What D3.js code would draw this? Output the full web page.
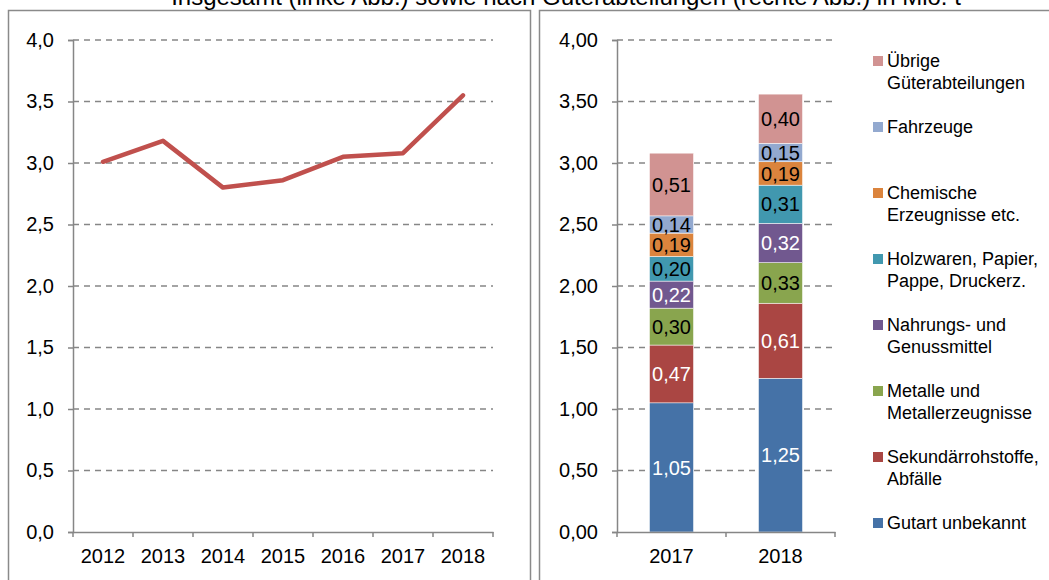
<!DOCTYPE html>
<html>
<head>
<meta charset="utf-8">
<script src="https://cdn.jsdelivr.net/npm/d3@7"></script>
<style>
body { margin: 0; background: #fff; }
svg text { font-family: "Liberation Sans", Arial, Helvetica, sans-serif !important; }
</style>
</head>
<body>
<div id="chart-area"></div>
<script>
// ** Data **
var years = ["2012", "2013", "2014", "2015", "2016", "2017", "2018"];
var totals = [3.01, 3.18, 2.80, 2.86, 3.05, 3.08, 3.55];

var barYears = ["2017", "2018"];
var categories = [
	"Gutart unbekannt",
	"Sekundärrohstoffe, Abfälle",
	"Metalle und Metallerzeugnisse",
	"Nahrungs- und Genussmittel",
	"Holzwaren, Papier, Pappe, Druckerz.",
	"Chemische Erzeugnisse etc.",
	"Fahrzeuge",
	"Übrige Güterabteilungen"
];
// legend lines (wrapped like the original)
var legendLines = [
	["Gutart unbekannt"],
	["Sekundärrohstoffe,", "Abfälle"],
	["Metalle und", "Metallerzeugnisse"],
	["Nahrungs- und", "Genussmittel"],
	["Holzwaren, Papier,", "Pappe, Druckerz."],
	["Chemische", "Erzeugnisse etc."],
	["Fahrzeuge"],
	["Übrige", "Güterabteilungen"]
];
var values2017 = [1.05, 0.47, 0.30, 0.22, 0.20, 0.19, 0.14, 0.51];
var values2018 = [1.25, 0.61, 0.33, 0.32, 0.31, 0.19, 0.15, 0.40];
var colors = ["#4572A7", "#AA4643", "#89A54E", "#71588F", "#4198AF", "#DB843D", "#93A9CF", "#D19392"];
var labelColors = ["#fff", "#fff", "#000", "#fff", "#000", "#000", "#000", "#000"];

var leftTicks = [0, 0.5, 1, 1.5, 2, 2.5, 3, 3.5, 4];
var rightTicks = [0, 0.5, 1, 1.5, 2, 2.5, 3, 3.5, 4];

var title = "Insgesamt (linke Abb.) sowie nach Güterabteilungen (rechte Abb.) in Mio. t";

// ** Dimensions **
var W = 1049, H = 580;
var gridColor = "#868686";
var tickFont = 20;
var fmt1 = function(d){ return d3.format(".1f")(d).replace(".", ","); };
var fmt2 = function(d){ return d3.format(".2f")(d).replace(".", ","); };

var svg = d3.select("#chart-area")
	.append("svg")
	.attr("width", W)
	.attr("height", H);

// Frames
svg.append("rect")
	.attr("x", 8.5).attr("y", 10.5)
	.attr("width", 522).attr("height", 600)
	.attr("fill", "none").attr("stroke", "#8a8a8a").attr("stroke-width", 1.5);
svg.append("rect")
	.attr("x", 539.5).attr("y", 10.5)
	.attr("width", 520).attr("height", 600)
	.attr("fill", "none").attr("stroke", "#8a8a8a").attr("stroke-width", 1.5);

// Title (cut off at top, as in the original)
svg.append("text")
	.attr("x", 566)
	.attr("y", 5)
	.attr("text-anchor", "middle")
	.attr("font-size", 24)
	.attr("fill", "#000")
	.text(title);

function styleAxis(sel){
	sel.select(".domain").attr("stroke", gridColor).attr("stroke-width", 1.5);
	sel.selectAll(".tick line").attr("stroke", gridColor).attr("stroke-width", 1.5);
	sel.selectAll(".tick text").attr("fill", "#000").attr("font-size", tickFont);
}

// ===== Left chart: line =====
var L = { left: 73, right: 493, top: 40, bottom: 532 };
var xL = d3.scaleBand().domain(years).range([L.left, L.right]);
var yL = d3.scaleLinear().domain([0, 4]).range([L.bottom, L.top]);

var gL = svg.append("g");

// gridlines
gL.selectAll(".grid")
	.data(leftTicks.filter(function(d){ return d > 0; }))
	.enter().append("line")
	.attr("x1", L.left).attr("x2", L.right)
	.attr("y1", function(d){ return yL(d); })
	.attr("y2", function(d){ return yL(d); })
	.attr("stroke", gridColor).attr("stroke-width", 1.5)
	.attr("stroke-dasharray", "6,5");

var yAxisL = gL.append("g")
	.attr("transform", "translate(" + L.left + ",0)")
	.call(d3.axisLeft(yL).tickValues(leftTicks).tickFormat(fmt1).tickSizeOuter(0).tickSize(5).tickPadding(14));
styleAxis(yAxisL);

var xAxisL = gL.append("g")
	.attr("transform", "translate(0," + L.bottom + ")")
	.call(d3.axisBottom(xL).tickSize(0).tickSizeOuter(0).tickPadding(17));
styleAxis(xAxisL);
// tick marks at band boundaries
xAxisL.selectAll(".bound")
	.data(years.concat(["end"]))
	.enter().append("line")
	.attr("x1", function(d, i){ return L.left + i * xL.step(); })
	.attr("x2", function(d, i){ return L.left + i * xL.step(); })
	.attr("y1", 0).attr("y2", 5)
	.attr("stroke", gridColor).attr("stroke-width", 1.5);

var line = d3.line()
	.x(function(d, i){ return xL(years[i]) + xL.bandwidth() / 2; })
	.y(function(d){ return yL(d); });

gL.append("path")
	.datum(totals)
	.attr("d", line)
	.attr("fill", "none")
	.attr("stroke", "#C0504D")
	.attr("stroke-width", 4.5)
	.attr("stroke-linecap", "round")
	.attr("stroke-linejoin", "round");

// ===== Right chart: stacked bars =====
var R = { left: 617, right: 835, top: 40, bottom: 532 };
var yR = d3.scaleLinear().domain([0, 4]).range([R.bottom, R.top]);
var xBand = d3.scaleBand().domain(barYears).range([R.left, R.right]);
var barWidth = 44;

var gR = svg.append("g");

gR.selectAll(".grid")
	.data(rightTicks.filter(function(d){ return d > 0; }))
	.enter().append("line")
	.attr("x1", R.left).attr("x2", R.right)
	.attr("y1", function(d){ return yR(d); })
	.attr("y2", function(d){ return yR(d); })
	.attr("stroke", gridColor).attr("stroke-width", 1.5)
	.attr("stroke-dasharray", "6,5");

var table = barYears.map(function(yr, i){
	var row = { year: yr };
	var vals = i === 0 ? values2017 : values2018;
	categories.forEach(function(c, j){ row[c] = vals[j]; });
	return row;
});
var series = d3.stack().keys(categories)(table);

series.forEach(function(s, j){
	var grp = gR.append("g");
	grp.selectAll("rect")
		.data(s)
		.enter().append("rect")
		.attr("x", function(d){ return xBand(d.data.year) + (xBand.bandwidth() - barWidth) / 2; })
		.attr("width", barWidth)
		.attr("y", function(d){ return yR(d[1]); })
		.attr("height", function(d){ return yR(d[0]) - yR(d[1]); })
		.attr("fill", colors[j])
		.attr("stroke", "#fff")
		.attr("stroke-width", 0.5);
	grp.selectAll("text")
		.data(s)
		.enter().append("text")
		.attr("x", function(d){ return xBand(d.data.year) + xBand.bandwidth() / 2; })
		.attr("y", function(d){ return (yR(d[0]) + yR(d[1])) / 2; })
		.attr("dy", "0.36em")
		.attr("text-anchor", "middle")
		.attr("font-size", 20)
		.attr("fill", labelColors[j])
		.text(function(d){ return fmt2(d[1] - d[0]); });
});

var yAxisR = gR.append("g")
	.attr("transform", "translate(" + R.left + ",0)")
	.call(d3.axisLeft(yR).tickValues(rightTicks).tickFormat(fmt2).tickSizeOuter(0).tickSize(5).tickPadding(14));
styleAxis(yAxisR);

var xAxisR = gR.append("g")
	.attr("transform", "translate(0," + R.bottom + ")")
	.call(d3.axisBottom(xBand).tickSize(0).tickSizeOuter(0).tickPadding(17));
styleAxis(xAxisR);
xAxisR.selectAll(".bound")
	.data(barYears.concat(["end"]))
	.enter().append("line")
	.attr("x1", function(d, i){ return R.left + i * xBand.step(); })
	.attr("x2", function(d, i){ return R.left + i * xBand.step(); })
	.attr("y1", 0).attr("y2", 5)
	.attr("stroke", gridColor).attr("stroke-width", 1.5);

// ** Legend ** (top entry is last category)
var legendRowHeight = 66;
var legend = svg.append("g").attr("transform", "translate(873, 61)");
categories.slice().reverse().forEach(function(c, i){
	var j = categories.length - 1 - i;
	var row = legend.append("g")
		.attr("transform", "translate(0," + (i * legendRowHeight) + ")");
	row.append("rect")
		.attr("x", 0).attr("y", -5)
		.attr("width", 10).attr("height", 10)
		.attr("fill", colors[j]);
	var t = row.append("text")
		.attr("x", 14)
		.attr("y", 0)
		.attr("font-size", 18)
		.attr("fill", "#000");
	legendLines[j].forEach(function(ln, k){
		t.append("tspan")
			.attr("x", 14)
			.attr("dy", k === 0 ? "0.36em" : "22")
			.text(ln);
	});
});
</script>
</body>
</html>
